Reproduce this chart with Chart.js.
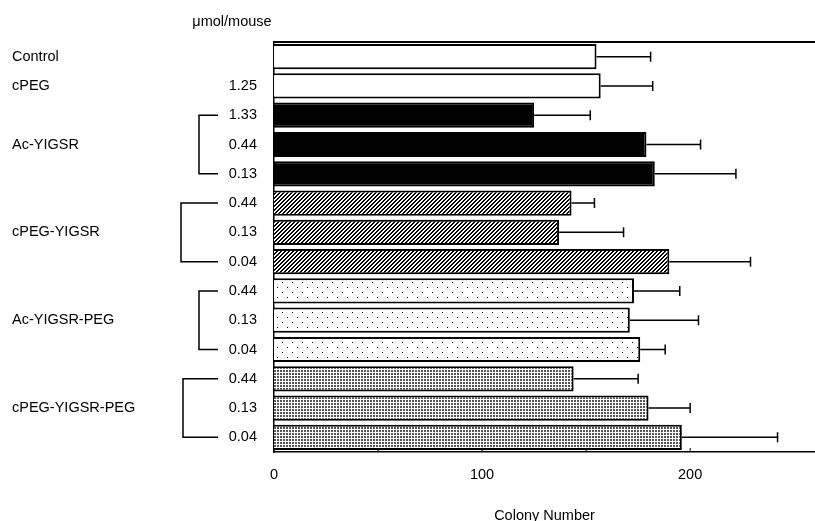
<!DOCTYPE html>
<html>
<head>
<meta charset="utf-8">
<script src="https://cdn.jsdelivr.net/npm/chart.js@4.4.1/dist/chart.umd.min.js"></script>
<style>
  html, body { margin: 0; padding: 0; background: #fff; }
  #wrap { width: 815px; height: 521px; }
</style>
</head>
<body>
<div id="wrap"><canvas id="colony-canvas"></canvas></div>
<script>
const groups = ["Control", "cPEG", "Ac-YIGSR", "cPEG-YIGSR", "Ac-YIGSR-PEG", "cPEG-YIGSR-PEG"];
const barGroup = [0, 1, 2, 2, 2, 3, 3, 3, 4, 4, 4, 5, 5, 5];
const doses = ["", "1.25", "1.33", "0.44", "0.13", "0.44", "0.13", "0.04", "0.44", "0.13", "0.04", "0.44", "0.13", "0.04"];
const colonyMean = [155, 157, 125, 179, 183, 143, 137, 190, 173, 171, 176, 144, 180, 196];
const colonyErr = [26, 25, 27, 26, 39, 11, 31, 39, 22, 33, 12, 31, 20, 46];
const xTicks = [0, 100, 200];
const xMinorTicks = [0, 50, 100, 150, 200];

const FONT = "'Liberation Sans', Arial, Helvetica, sans-serif";

function makePattern(w, h, draw) {
  const c = document.createElement("canvas");
  c.width = w;
  c.height = h;
  const g = c.getContext("2d");
  g.fillStyle = "#fff";
  g.fillRect(0, 0, w, h);
  g.fillStyle = "#000";
  draw(g);
  return c.getContext("2d").createPattern(c, "repeat");
}

// fills per group
const hatch = makePattern(4, 4, (g) => {
  for (let i = 0; i < 4; i++) {
    g.fillRect(3 - i, i, 1, 1);
    g.fillRect((4 - i) % 4, i, 1, 1);
  }
});
const sparseDots = makePattern(10, 10, (g) => {
  g.fillRect(2, 2, 1, 1);
  g.fillRect(7, 7, 1, 1);
});
const denseDots = makePattern(3, 3, (g) => {
  g.fillStyle = "#555";
  g.fillRect(1, 1, 2, 2);
});
const groupFill = ["#fff", "#fff", "#000", hatch, sparseDots, denseDots];

const overlay = {
  id: "overlay",
  afterDatasetsDraw(chart) {
    const ctx = chart.ctx;
    const x = chart.scales.x;
    const y = chart.scales.y;
    const area = chart.chartArea;
    ctx.save();
    ctx.strokeStyle = "#000";

    // top frame line
    ctx.lineWidth = 2;
    ctx.beginPath();
    ctx.moveTo(area.left, area.top);
    ctx.lineTo(chart.width, area.top);
    ctx.stroke();

    // error bars (upper side only)
    ctx.lineWidth = 1.5;
    colonyMean.forEach((m, i) => {
      const yc = y.getPixelForValue(i);
      const x0 = x.getPixelForValue(m);
      const x1 = x.getPixelForValue(m + colonyErr[i]);
      ctx.beginPath();
      ctx.moveTo(x0, yc);
      ctx.lineTo(x1, yc);
      ctx.moveTo(x1, yc - 5);
      ctx.lineTo(x1, yc + 5);
      ctx.stroke();
    });

    // small tick marks on the x axis
    ctx.lineWidth = 1;
    xMinorTicks.forEach((v) => {
      const px = x.getPixelForValue(v);
      ctx.beginPath();
      ctx.moveTo(px, area.bottom);
      ctx.lineTo(px, area.bottom - 4);
      ctx.stroke();
    });

    // group names and brackets
    ctx.fillStyle = "#000";
    ctx.font = "14.5px " + FONT;
    ctx.textBaseline = "middle";
    ctx.textAlign = "left";
    const bracketX = [null, null, 199, 181, 199, 183];
    groups.forEach((name, gi) => {
      const idx = barGroup.map((b, i) => (b === gi ? i : -1)).filter((i) => i >= 0);
      const first = idx[0];
      const last = idx[idx.length - 1];
      const mid = (y.getPixelForValue(first) + y.getPixelForValue(last)) / 2;
      ctx.fillText(name, 12, mid);
      if (idx.length > 1) {
        const bx = bracketX[gi];
        const y0 = y.getPixelForValue(first);
        const y1 = y.getPixelForValue(last);
        ctx.lineWidth = 1.5;
        ctx.beginPath();
        ctx.moveTo(218, y0);
        ctx.lineTo(bx, y0);
        ctx.lineTo(bx, y1);
        ctx.lineTo(218, y1);
        ctx.stroke();
      }
    });

    ctx.textAlign = "center";
    ctx.fillText("\u03bcmol/mouse", 232, 22);
    ctx.restore();
  },
};

new Chart(document.getElementById("colony-canvas"), {
  type: "bar",
  data: {
    labels: doses,
    datasets: [
      {
        data: colonyMean,
        backgroundColor: barGroup.map((g) => groupFill[g]),
        borderColor: "#000",
        borderWidth: 2,
        barPercentage: 0.86,
        categoryPercentage: 1,
      },
    ],
  },
  plugins: [overlay],
  options: {
    indexAxis: "y",
    responsive: true,
    maintainAspectRatio: false,
    animation: false,
    layout: { padding: { top: 42, right: 0, left: 0, bottom: 0 } },
    plugins: {
      legend: { display: false },
      tooltip: { enabled: false },
    },
    scales: {
      x: {
        min: 0,
        max: 260,
        afterBuildTicks: (scale) => {
          scale.ticks = xTicks.map((v) => ({ value: v }));
        },
        afterFit: (scale) => {
          scale.height = 69;
        },
        grid: { display: false, drawTicks: false },
        border: { display: true, color: "#000", width: 1.5 },
        ticks: {
          color: "#000",
          padding: 14,
          maxRotation: 0,
          font: { family: FONT, size: 14.5 },
        },
        title: {
          display: true,
          text: "Colony Number",
          color: "#000",
          padding: { top: 22, bottom: -4 },
          font: { family: FONT, size: 14.5 },
        },
      },
      y: {
        afterFit: (scale) => {
          scale.width = 274;
        },
        grid: { display: false, drawTicks: false },
        border: { display: true, color: "#000", width: 1.5 },
        ticks: {
          color: "#000",
          padding: 17,
          autoSkip: false,
          font: { family: FONT, size: 14.5 },
        },
      },
    },
  },
});
</script>
</body>
</html>
